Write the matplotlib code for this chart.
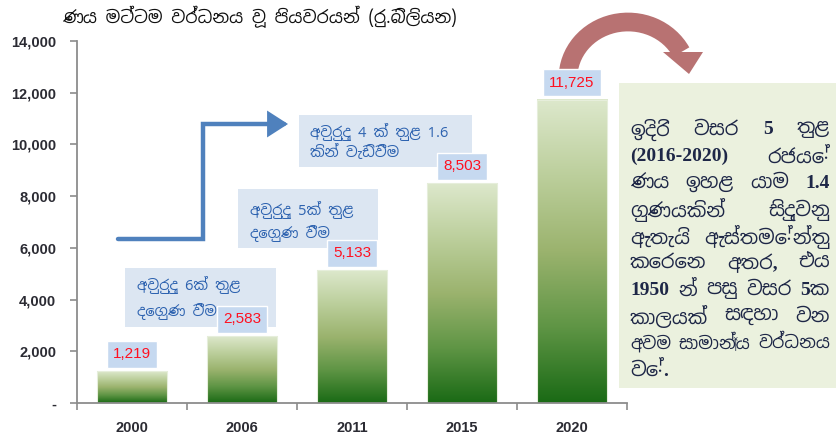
import numpy as np
import matplotlib
matplotlib.use("Agg")
import matplotlib.pyplot as plt
from matplotlib import font_manager
from matplotlib.colors import LinearSegmentedColormap
from matplotlib.patches import Rectangle, Arc, Polygon, FancyArrowPatch
from matplotlib.path import Path
from matplotlib.transforms import Affine2D

# data
years = ["2000", "2006", "2011", "2015", "2020"]
debt = [1219, 2583, 5133, 8503, 11725]
y_ticks = [0, 2000, 4000, 6000, 8000, 10000, 12000, 14000]
y_tick_labels = ["-", "2,000", "4,000", "6,000", "8,000", "10,000", "12,000", "14,000"]

title = "ණය මට්ටම වර්ධනය වූ පියවරයන් (රු.බිලියන)"
note_6yr = ["අවුරුදු 6ක් තුළ", "දෙගුණ වීම"]
note_5yr = ["අවුරුදු 5ක් තුළ", "දෙගුණ වීම"]
note_4yr = ["අවුරුදු 4 ක් තුළ 1.6", "කින් වැඩිවීම"]
side_lines = [
    "ඉදිරි වසර 5 තුළ",
    "(2016-2020) රජයේ",
    "ණය ඉහළ යාම 1.4",
    "ගුණයකින් සිදුවනු",
    "ඇතැයි ඇස්තමේන්තු",
    "කෙරෙන අතර, එය",
    "1950 න් පසු වසර 5ක",
    "කාලයක් සඳහා වන",
    "අවම සාමාන්‍ය වර්ධනය",
    "වේ.",
]

# use a Sinhala font if one is there
si_fonts = sorted({f.name for f in font_manager.fontManager.ttflist if "Sinhala" in f.name})
sans = si_fonts[:1] + ["DejaVu Sans"]
serif = ["Liberation Serif"] + si_fonts[:1] + ["DejaVu Sans"]

W, H = 837, 438
fig = plt.figure(figsize=(W / 100, H / 100), dpi=100)
ax = fig.add_axes([77 / W, 1 - 403 / H, 550 / W, 362 / H])
# pixel coordinates (top-left origin) for the drawn decorations
pix = Affine2D().scale(1 / W, -1 / H).translate(0, 1) + fig.transFigure

x = np.arange(len(years))
bars = ax.bar(x, debt, width=0.645, color="none", edgecolor="#e6eedb", lw=0.8, zorder=2.1)

green = LinearSegmentedColormap.from_list(
    "grn", ["#dde8cc", "#bccf9c", "#9bb36e", "#5f9545", "#1a6a15"])
grad = np.linspace(0, 1, 256).reshape(-1, 1)
for b in bars:
    x0, w, h = b.get_x(), b.get_width(), b.get_height()
    ax.imshow(grad, extent=[x0, x0 + w, 0, h], aspect="auto", cmap=green,
              origin="upper", zorder=2)

ax.set_xlim(-0.5, len(years) - 0.5)
ax.set_ylim(0, 14000)

# value labels
for xi, v in zip(x, debt):
    ax.annotate(f"{v:,}", (xi, v), xytext=(0, 10), textcoords="offset pixels",
                ha="center", va="bottom", color="#ff1020", fontsize=11,
                family="Liberation Sans", zorder=5,
                bbox=dict(boxstyle="square,pad=0.42", fc="#c6d9f0", ec="white", lw=1))

# axes styling
for s in ("top", "right"):
    ax.spines[s].set_visible(False)
for s in ("left", "bottom"):
    ax.spines[s].set_color("#8c8c8c")
    ax.spines[s].set_linewidth(1.3)
ax.set_yticks(y_ticks)
ax.set_yticklabels(y_tick_labels)
ax.set_xticks(x)
ax.set_xticklabels(years)
ax.set_xticks(np.arange(-0.5, len(years)), minor=True)
ax.tick_params(axis="x", which="major", length=0, pad=13)
ax.tick_params(axis="x", which="minor", length=5, color="#8c8c8c", width=1.2, direction="out")
ax.tick_params(axis="y", length=5, color="#8c8c8c", width=1.2, pad=10)
for lab in ax.get_xticklabels() + ax.get_yticklabels():
    lab.set_family("Liberation Sans")
    lab.set_fontweight("bold")
    lab.set_fontsize(10.5)
    lab.set_color("#2b2b33")

fig.text(259 / W, 1 - 17 / H, title, ha="center", va="center", fontsize=12.5,
         fontweight="bold", family=sans, color="#111111")

# note boxes
note_col = "#dce6f2"
note_txt = "#2e63b0"
for (bx0, by0, bx1, by1), lines, tx, ty, dy in [
        ((125, 268, 276, 327), note_6yr, 137, 285, 27),
        ((238, 189, 378, 248), note_5yr, 250, 210, 24),
        ((299, 115, 472, 167), note_4yr, 310, 132, 21)]:
    ax.add_patch(Rectangle((bx0, by0), bx1 - bx0, by1 - by0, transform=pix,
                           fc=note_col, ec="none", clip_on=False, zorder=3))
    for i, t in enumerate(lines):
        ax.text(tx, ty + i * dy, t, transform=pix, ha="left", va="center",
                fontsize=10.5, fontweight="bold", color=note_txt, family=sans,
                clip_on=False, zorder=4)

# blue step arrow
step = Path([(118, 239), (203, 239), (203, 124), (288, 124)],
            [Path.MOVETO, Path.LINETO, Path.LINETO, Path.LINETO])
ax.add_patch(FancyArrowPatch(path=step, transform=pix,
                             arrowstyle="-|>,head_length=0.7,head_width=0.45",
                             mutation_scale=15, lw=3.2, color="#4f81bd",
                             joinstyle="miter", clip_on=False, zorder=4))

# side text box, justified lines
ax.add_patch(Rectangle((619, 83), 217, 305, transform=pix, fc="#ebf1de", ec="none",
                       clip_on=False, zorder=3))
left, right = 630, 830
renderer = fig.canvas.get_renderer()
for i, line in enumerate(side_lines):
    yy = 130 + i * 26.7
    words = line.split(" ")
    size = 14
    while True:
        texts = [ax.text(0, yy, wd, transform=pix, ha="left", va="center", fontsize=size,
                         fontweight="bold", family=serif, color="#1e2747",
                         clip_on=False, zorder=4) for wd in words]
        widths = [t.get_window_extent(renderer).width for t in texts]
        total = sum(widths)
        if len(words) == 1 or i == len(side_lines) - 1:
            gap = 5
        else:
            gap = (right - left - total) / (len(words) - 1)
        if gap >= 4 or size <= 9:
            break
        for t in texts:
            t.remove()
        size -= 0.5
    xx = left
    for t, wdt in zip(texts, widths):
        t.set_x(xx)
        xx += wdt + gap

# red curved arrow
ax.add_patch(Arc((628, 78), 120, 112, theta1=180, theta2=334, transform=pix,
                 lw=13.5, color="#b87272", clip_on=False, zorder=4))
ax.add_patch(Polygon([(663, 52), (703, 52), (689, 74)], closed=True, transform=pix,
                     fc="#b87272", ec="none", clip_on=False, zorder=4))

fig.savefig("out.png", dpi=100)
